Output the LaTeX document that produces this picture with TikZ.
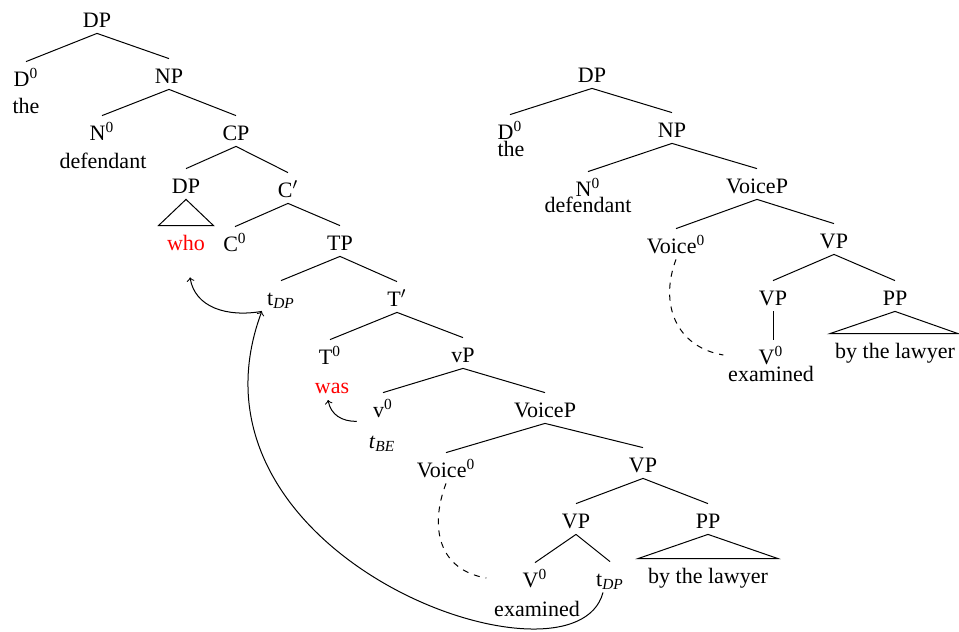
\documentclass[tikz,border=0pt]{standalone}
\usepackage{fontspec}
\setmainfont{Liberation Serif}
\begin{document}
\begin{tikzpicture}[x=0.5pt,y=-0.5pt,
  lab/.style={anchor=base, inner sep=0pt, text height=12pt, text depth=3pt,
              font=\fontsize{11}{13}\selectfont},
  wd/.style={anchor=base, inner sep=0pt, font=\fontsize{11}{13}\selectfont},
  moved/.style={text=red},
  branch/.style={line width=0.5pt},
  mvarrow/.style={->, line width=0.5pt},
  agree/.style={dashed, line width=0.5pt}]
\useasboundingbox (0,0) rectangle (959,632);

% ---------- relative clause tree ----------
\node[lab] (dpA)  at (97,27)  {DP};
\node[lab] (dA)   at (26,86)  {D\textsuperscript{0}};
\node[wd]  (theA) at (26,113) {the};
\node[lab] (npA)  at (169,83) {NP};
\node[lab] (nA)   at (102,140) {N\textsuperscript{0}};
\node[wd]  (defA) at (103,168) {defendant};
\node[lab] (cpA)  at (236,140) {CP};
\node[lab] (dpB)  at (186,193) {DP};
\node[lab] (cbarA) at (288,197) {C$'$};
\node[lab, moved] (whoA) at (186,250) {who};
\node[lab] (c0A)  at (235,251) {C\textsuperscript{0}};
\node[lab] (tpA)  at (340,250) {TP};
\node[lab] (tdpA) at (281,305) {t\textsubscript{\textit{DP}}};
\node[lab] (tbarA) at (397,306) {T$'$};
\node[lab] (t0A)  at (330,364) {T\textsuperscript{0}};
\node[wd, moved] (wasA) at (332,393) {was};
\node[lab] (vpA)  at (463,362) {vP};
\node[lab] (v0A)  at (383,417) {v\textsuperscript{0}};
\node[wd]  (tbeA) at (382,448) {\textit{t}\textsubscript{\textit{BE}}};
\node[lab] (voicepA) at (545,417) {VoiceP};
\node[lab] (voice0A) at (446,477) {Voice\textsuperscript{0}};
\node[lab] (vpB)  at (643,472) {VP};
\node[lab] (vpC)  at (576,528) {VP};
\node[lab] (ppA)  at (708,528) {PP};
\node[lab] (v0B)  at (535,587) {V\textsuperscript{0}};
\node[wd]  (exA)  at (537,616) {examined};
\node[lab] (tdpB) at (610,586) {t\textsubscript{\textit{DP}}};
\node[lab] (bylawA) at (708,583) {by the lawyer};

\draw[branch] (dpA.south) -- (dA.north);
\draw[branch] (dpA.south) -- (npA.north);
\draw[branch] (npA.south) -- (nA.north);
\draw[branch] (npA.south) -- (cpA.north);
\draw[branch] (cpA.south) -- (dpB.north);
\draw[branch] (cpA.south) -- (cbarA.north);
\draw[branch] (dpB.south) -- ([xshift=-13.75pt]whoA.north)
              -- ([xshift=13.75pt]whoA.north) -- cycle;
\draw[branch] (cbarA.south) -- (c0A.north);
\draw[branch] (cbarA.south) -- (tpA.north);
\draw[branch] (tpA.south) -- (tdpA.north);
\draw[branch] (tpA.south) -- (tbarA.north);
\draw[branch] (tbarA.south) -- (t0A.north);
\draw[branch] (tbarA.south) -- (vpA.north);
\draw[branch] (vpA.south) -- (v0A.north);
\draw[branch] (vpA.south) -- (voicepA.north);
\draw[branch] (voicepA.south) -- (voice0A.north);
\draw[branch] (voicepA.south) -- (vpB.north);
\draw[branch] (vpB.south) -- (vpC.north);
\draw[branch] (vpB.south) -- (ppA.north);
\draw[branch] (vpC.south) -- (v0B.north);
\draw[branch] (vpC.south) -- (tdpB.north);
\draw[branch] (ppA.south) -- ([xshift=-35pt]bylawA.north)
              -- ([xshift=35pt]bylawA.north) -- cycle;

% movement and agreement
\draw[mvarrow] ([xshift=-2.5pt]tdpA.south west)
   .. controls +(-35,6) and +(5,30) .. ([xshift=2pt,yshift=-10.5pt]whoA.south);
\draw[mvarrow] ([xshift=-3.5pt]tdpB.south)
   .. controls +(-28,108) and +(-92,247) .. ([xshift=-2.5pt]tdpA.south west);
\draw[mvarrow] ([xshift=-8pt,yshift=1pt]v0A.south west)
   .. controls +(-15,0) and +(3,15) .. ([xshift=-2pt,yshift=-3.5pt]wasA.base);
\draw[agree] (voice0A.south)
   .. controls +(-17,45) and +(-47,-8) .. ([xshift=-18pt]v0B.west);

% ---------- passive participle tree ----------
\node[lab] (dpR)  at (592,82)  {DP};
\node[lab] (dR)   at (510,139) {D\textsuperscript{0}};
\node[wd]  (theR) at (511,156) {the};
\node[lab] (npR)  at (672,137) {NP};
\node[lab] (nR)   at (588,196) {N\textsuperscript{0}};
\node[wd]  (defR) at (588,212) {defendant};
\node[lab] (voicepR) at (757,193) {VoiceP};
\node[lab] (voice0R) at (676,253) {Voice\textsuperscript{0}};
\node[lab] (vpR)  at (834,248) {VP};
\node[lab] (vpR2) at (773,305) {VP};
\node[lab] (ppR)  at (895,305) {PP};
\node[lab] (v0R)  at (771,364) {V\textsuperscript{0}};
\node[wd]  (exR)  at (771,381) {examined};
\node[lab] (bylawR) at (895,358) {by the lawyer};

\draw[branch] (dpR.south) -- (dR.north);
\draw[branch] (dpR.south) -- (npR.north);
\draw[branch] (npR.south) -- (nR.north);
\draw[branch] (npR.south) -- (voicepR.north);
\draw[branch] (voicepR.south) -- (voice0R.north);
\draw[branch] (voicepR.south) -- (vpR.north);
\draw[branch] (vpR.south) -- (vpR2.north);
\draw[branch] (vpR.south) -- (ppR.north);
\draw[branch] (vpR2.south) -- (vpR2.south |- v0R.north);
\draw[branch] (ppR.south) -- ([xshift=-32.5pt]bylawR.north)
              -- ([xshift=31.5pt]bylawR.north) -- cycle;
\draw[agree] (voice0R.south)
   .. controls +(-17,45) and +(-47,-8) .. ([xshift=-17.5pt]v0R.west);
\end{tikzpicture}
\end{document}
